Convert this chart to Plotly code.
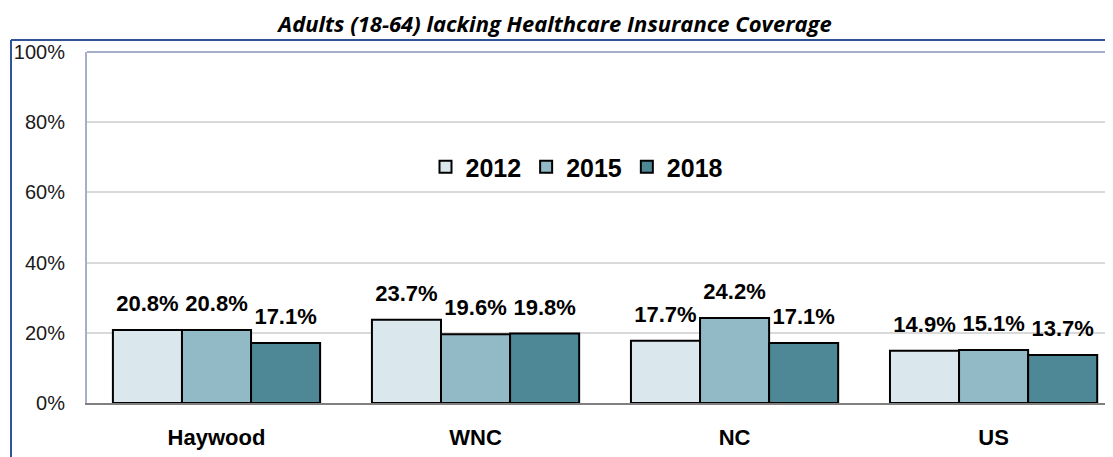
import plotly.graph_objects as go

categories = ["Haywood", "WNC", "NC", "US"]
years = ["2012", "2015", "2018"]
values_2012 = [0.208, 0.237, 0.177, 0.149]
values_2015 = [0.208, 0.196, 0.242, 0.151]
values_2018 = [0.171, 0.198, 0.171, 0.137]
y_ticks = [0, 0.2, 0.4, 0.6, 0.8, 1.0]
y_tick_labels = ["0%", "20%", "40%", "60%", "80%", "100%"]
title_text = "Adults (18-64) lacking Healthcare Insurance Coverage"

series = [values_2012, values_2015, values_2018]
colors = ["#DAE7ED", "#91B9C6", "#4E8896"]

FONT = "Liberation Sans, Arial, sans-serif"

# page body has an 8px margin; figure is sized/positioned to compensate
OFF = 8
W, H = 1113 - OFF, 457 - OFF
L, R, T, B = 87 - OFF, 0, 52 - OFF, 54
pw, ph = W - L - R, H - T - B

fig = go.Figure()
for yr, vals, col in zip(years, series, colors):
    fig.add_trace(go.Bar(
        name=yr, x=categories, y=vals,
        marker=dict(color=col, line=dict(color="#000000", width=2)),
        offsetgroup=yr, alignmentgroup="a",
    ))
for yr, vals in zip(years, series):
    fig.add_trace(go.Scatter(
        x=categories, y=vals, mode="markers+text",
        text=[f"{v*100:.1f}%" for v in vals],
        textposition="top center",
        textfont=dict(family=FONT, size=22, color="#000000", weight="bold"),
        marker=dict(size=20, color="rgba(0,0,0,0)"),
        offsetgroup=yr, alignmentgroup="a",
        showlegend=False, hoverinfo="skip", cliponaxis=False,
    ))

fig.update_layout(
    width=W, height=H,
    margin=dict(l=L, r=R, t=T, b=B),
    paper_bgcolor="white", plot_bgcolor="white",
    barmode="group", bargap=0.2, bargroupgap=0,
    scattermode="group", scattergap=0.2,
    title=dict(text=title_text, x=(555 - OFF) / W, xref="container", xanchor="center",
               y=1 - (24 - OFF) / H, yref="container", yanchor="middle",
               font=dict(family="Open Sans, Noto Sans, sans-serif", size=22,
                         color="#000000", weight="bold", style="italic")),
    legend=dict(orientation="h", x=(577 - 87) / pw, xanchor="center",
                y=(403 - 167) / ph, yanchor="middle",
                bgcolor="rgba(0,0,0,0)",
                font=dict(family=FONT, size=25, color="#000000", weight="bold"),
                traceorder="normal"),
    showlegend=True,
    xaxis=dict(range=[-0.5, 3.461], showgrid=False, showline=True,
               linecolor="#808080", linewidth=2, ticks="",
               ticklabelstandoff=14,
               tickfont=dict(family=FONT, size=22, color="#000000", weight="bold"),
               fixedrange=True),
    yaxis=dict(range=[0, 1], tickvals=y_ticks, ticktext=y_tick_labels,
               showgrid=True, gridcolor="#D9D9D9", gridwidth=2,
               showline=True, linecolor="#A6AECB", linewidth=2,
               zeroline=False, ticks="", ticklabelstandoff=16,
               tickfont=dict(family=FONT, size=20, color="#1A1A1A"),
               fixedrange=True),
    shapes=[
        dict(type="line", xref="paper", yref="paper", x0=0, x1=1.05, y0=1, y1=1,
             line=dict(color="#A6AECB", width=2), layer="above"),
        dict(type="line", xref="paper", yref="paper",
             x0=(11 - 87) / pw, x1=(11 - 87) / pw, y0=-0.5, y1=(403 - 40) / ph,
             line=dict(color="#2F5597", width=2)),
        dict(type="line", xref="paper", yref="paper",
             x0=(11 - 87) / pw, x1=1.1, y0=(403 - 40) / ph, y1=(403 - 40) / ph,
             line=dict(color="#2F5597", width=2)),
    ],
)

fig.write_html("out.html")
